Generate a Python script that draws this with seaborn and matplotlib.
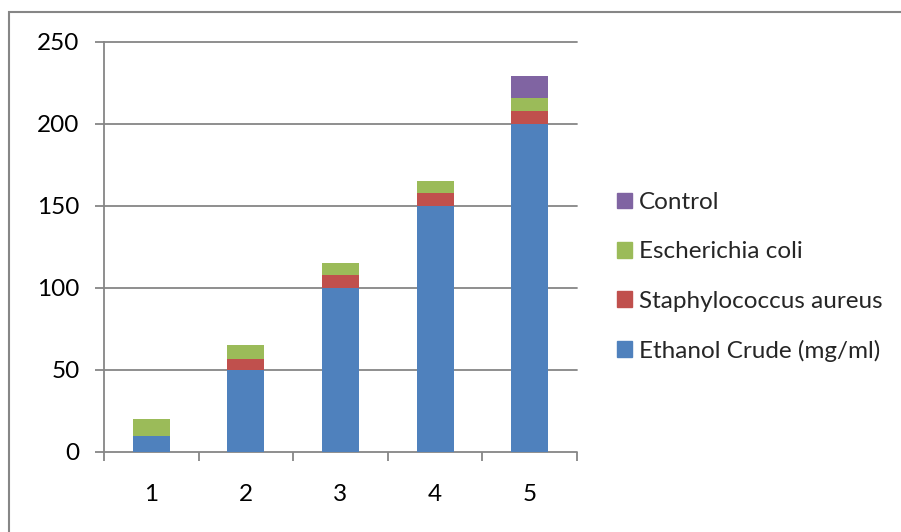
import matplotlib
matplotlib.use("Agg")
import matplotlib.pyplot as plt
import matplotlib.patches as mpatches
from matplotlib.ticker import FixedLocator
import numpy as np
import pandas as pd
import seaborn as sns

# Concentration steps on the x axis
categories = ["1", "2", "3", "4", "5"]

# Stacked components (bottom to top)
ethanol_crude = [10, 50, 100, 150, 200]
staph_aureus = [0, 7, 8, 8, 8]
e_coli = [10, 8, 7, 7, 8]
control = [0, 0, 0, 0, 13]

series_names = ["Ethanol Crude (mg/ml)", "Staphylococcus aureus",
                "Escherichia coli", "Control"]
series_values = [ethanol_crude, staph_aureus, e_coli, control]
series_colors = ["#4F81BD", "#C0504D", "#9BBB59", "#8064A2"]

y_ticks = [0, 50, 100, 150, 200, 250]

sns.set_theme(style="white")
plt.rcParams["font.family"] = ["Lato", "DejaVu Sans"]

W, H = 901, 532
fig = plt.figure(figsize=(W / 100, H / 100), dpi=100)
ax = fig.add_axes([104 / W, (H - 452) / H, (577 - 104) / W, (452 - 42) / H])

grid_color = "#868686"
fs = 17.5

bottom = np.zeros(len(categories))
for name, vals, color in zip(series_names, series_values, series_colors):
    df = pd.DataFrame({"cat": categories, "val": vals})
    sns.barplot(data=df, x="cat", y="val", color=color, width=0.39,
                bottom=bottom.copy(), saturation=1, ax=ax,
                linewidth=0, edgecolor=color, zorder=3)
    bottom += np.array(vals, dtype=float)

ax.set_xlim(-0.5, len(categories) - 0.5)
ax.set_ylim(0, 250)
ax.set_yticks(y_ticks)
ax.set_xlabel("")
ax.set_ylabel("")

# horizontal gridlines
for yv in y_ticks:
    ax.axhline(yv, color=grid_color, lw=1.3, zorder=1, clip_on=False)

for side in ["top", "right", "bottom"]:
    ax.spines[side].set_visible(False)
ax.spines["left"].set_color(grid_color)
ax.spines["left"].set_linewidth(1.3)

ax.tick_params(axis="y", which="major", direction="out", length=6.5,
               width=1.3, color=grid_color, pad=11, labelsize=fs,
               labelcolor="black", left=True)
ax.tick_params(axis="x", which="major", length=0, pad=23, labelsize=fs,
               labelcolor="black")
ax.xaxis.set_minor_locator(FixedLocator(np.arange(-0.5, len(categories), 1.0)))
ax.tick_params(axis="x", which="minor", direction="out", length=6.5,
               width=1.3, color=grid_color, bottom=True)

# legend listed top layer first
handles = [mpatches.Patch(color=c, label=n)
           for n, c in zip(series_names[::-1], series_colors[::-1])]
fig.legend(handles=handles, loc="center left",
           bbox_to_anchor=(607 / W, 1 - 277 / H), frameon=False,
           fontsize=fs, handlelength=0.62, handleheight=0.62,
           handletextpad=0.3, labelspacing=1.16, borderaxespad=0)

# outer chart frame
frame = mpatches.Rectangle((9 / W, -0.05), 1.1, 1.05 - 12 / H,
                           transform=fig.transFigure, fill=False,
                           edgecolor=grid_color, lw=1.5, zorder=10)
fig.patches.append(frame)

fig.savefig("out.png", dpi=100)
